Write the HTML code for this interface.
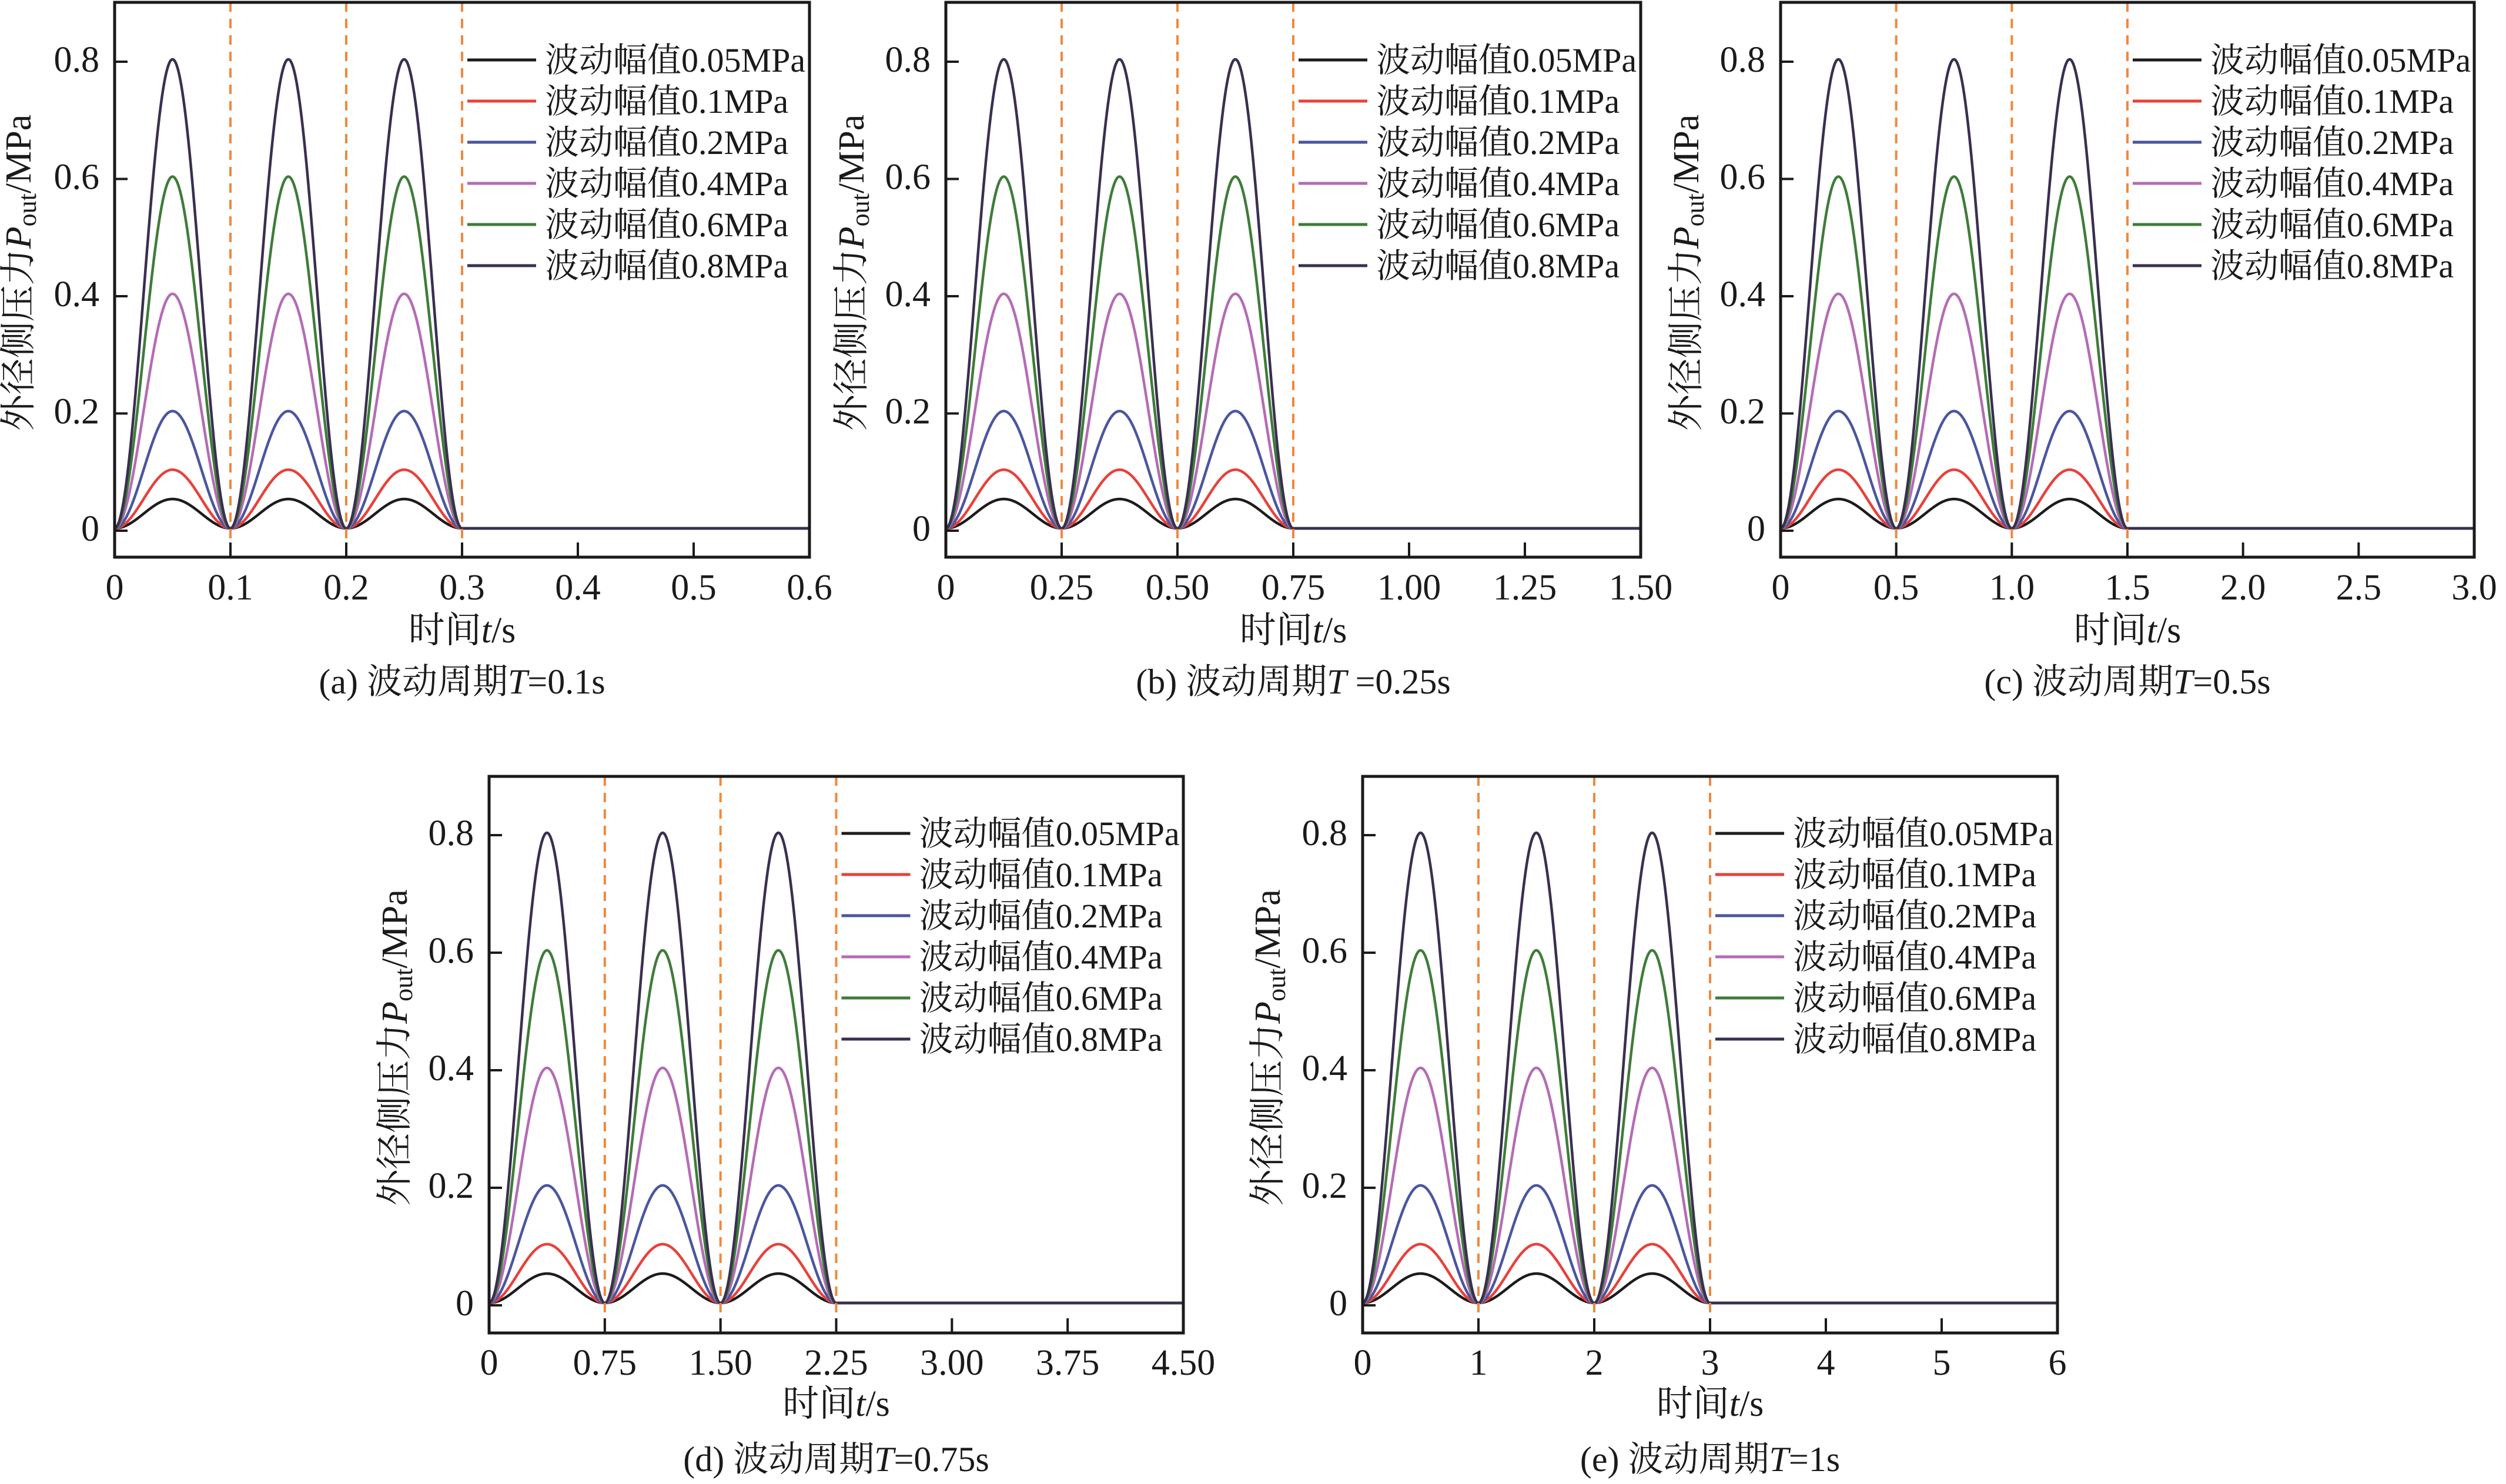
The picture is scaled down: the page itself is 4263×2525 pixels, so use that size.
<!DOCTYPE html>
<html><head><meta charset="utf-8">
<style>
html,body{margin:0;padding:0;background:#fff;}
svg{display:block;}
text{font-family:"Liberation Serif","Noto Serif CJK SC",serif;fill:#1a1a1a;}
</style></head>
<body>
<svg id="fig" width="4263" height="2525" viewBox="0 0 4263 2525" xmlns="http://www.w3.org/2000/svg"></svg>
<script>
// ---- data ----
const panelIds = ['a','b','c','d','e'];
const periods = [0.1, 0.25, 0.5, 0.75, 1];
const xMaxes = [0.6, 1.5, 3.0, 4.5, 6];
const xTicksA = [0,0.1,0.2,0.3,0.4,0.5,0.6];
const xTicksB = [0,0.25,0.5,0.75,1.0,1.25,1.5];
const xTicksC = [0,0.5,1.0,1.5,2.0,2.5,3.0];
const xTicksD = [0,0.75,1.5,2.25,3.0,3.75,4.5];
const xTicksE = [0,1,2,3,4,5,6];
const xTickLabelsA = ['0','0.1','0.2','0.3','0.4','0.5','0.6'];
const xTickLabelsB = ['0','0.25','0.50','0.75','1.00','1.25','1.50'];
const xTickLabelsC = ['0','0.5','1.0','1.5','2.0','2.5','3.0'];
const xTickLabelsD = ['0','0.75','1.50','2.25','3.00','3.75','4.50'];
const xTickLabelsE = ['0','1','2','3','4','5','6'];
const yTicks = [0,0.2,0.4,0.6,0.8];
const yTickLabels = ['0','0.2','0.4','0.6','0.8'];
const amplitudes = [0.05,0.1,0.2,0.4,0.6,0.8];
const seriesLabels = ['波动幅值0.05MPa','波动幅值0.1MPa','波动幅值0.2MPa','波动幅值0.4MPa','波动幅值0.6MPa','波动幅值0.8MPa'];
const cycles = 3;
const captionPeriods = ['T=0.1s','T =0.25s','T=0.5s','T=0.75s','T=1s'];

// ---- styles / layout ----
const colors = ['#1c1c1c','#e8413a','#4a569e','#b46cb4','#3f7c3a','#3a2f50'];
const layout = [
  {l:195,r:1377,t:4,b:948,y0:899,y8:101,tickY:1020,xlY:1093,capY:1180,ylX:32},
  {l:1609,r:2791,t:4,b:948,y0:899,y8:101,tickY:1020,xlY:1093,capY:1180,ylX:1449},
  {l:3029,r:4209,t:4,b:948,y0:899,y8:101,tickY:1020,xlY:1093,capY:1180,ylX:2869},
  {l:832,r:2013,t:1321,b:2268,y0:2217,y8:1417,tickY:2339,xlY:2409,capY:2503,ylX:672},
  {l:2318,r:3500,t:1321,b:2268,y0:2217,y8:1417,tickY:2339,xlY:2409,capY:2503,ylX:2157}
];
const allTicks=[xTicksA,xTicksB,xTicksC,xTicksD,xTicksE];
const allTickLabels=[xTickLabelsA,xTickLabelsB,xTickLabelsC,xTickLabelsD,xTickLabelsE];
const NS='http://www.w3.org/2000/svg';
const svg=document.getElementById('fig');
function mk(tag,attrs,parent){const e=document.createElementNS(NS,tag);for(const k in attrs)e.setAttribute(k,attrs[k]);(parent||svg).appendChild(e);return e;}

panelIds.forEach((pid,pi)=>{
  const L=layout[pi], T=periods[pi], xMax=xMaxes[pi];
  const g=mk('g',{});
  
  
  const X=v=>L.l+(L.r-L.l)*v/xMax;
  const Y=v=>L.y0+(L.y8-L.y0)*v/0.8;
  amplitudes.forEach((A,si)=>{
    let d='';const n=900;const tEnd=cycles*T;
    for(let i=0;i<=n;i++){const t=tEnd*i/n;const s=Math.sin(Math.PI*t/T);const v=A*s*s;d+=(i?'L':'M')+X(t).toFixed(2)+' '+Y(v).toFixed(2);}
    d+='L'+X(xMax).toFixed(2)+' '+Y(0).toFixed(2);
    const p=mk('path',{d:d,fill:'none',stroke:colors[si],'stroke-width':4.5,'stroke-linejoin':'round'},g);
    
    
  });
  for(let k=1;k<=cycles;k++){
    const dl=mk('line',{x1:X(k*T),x2:X(k*T),y1:L.t,y2:L.b,stroke:'#f0883c','stroke-width':4,'stroke-dasharray':'16 12'},g);
    
    
  }
  const fr=mk('rect',{x:L.l,y:L.t,width:L.r-L.l,height:L.b-L.t,fill:'none',stroke:'#1a1a1a','stroke-width':5},g);
  
  
  allTicks[pi].forEach((tv,ti)=>{
    const x=X(tv);
    mk('line',{x1:x,x2:x,y1:L.b,y2:L.b-25,stroke:'#1a1a1a','stroke-width':4},g);
    const tx=mk('text',{x:x,y:L.tickY,'text-anchor':'middle','font-size':62},g);
    tx.textContent=allTickLabels[pi][ti];
    
    
  });
  yTicks.forEach((yv,yi)=>{
    const y=Y(yv);
    mk('line',{x1:L.l,x2:L.l+22,y1:y+4,y2:y+4,stroke:'#1a1a1a','stroke-width':4},g);
    const ty=mk('text',{x:L.l-26,y:y+21,'text-anchor':'end','font-size':62},g);
    ty.textContent=yTickLabels[yi];
    
    
  });
  const lx=X(cycles*T)+9;
  const lg=mk('g',{},g);
  
  
  seriesLabels.forEach((lab,si)=>{
    const ly=L.y8+1+si*70;
    mk('line',{x1:lx,x2:lx+117,y1:ly,y2:ly,stroke:colors[si],'stroke-width':5},lg);
    const lt=mk('text',{x:lx+132,y:ly+20,'font-size':58},lg);
    lt.textContent=lab;
    
    
  });
  const cx=(L.l+L.r)/2;
  const xl=mk('text',{x:cx,y:L.xlY,'text-anchor':'middle','font-size':62},g);
  xl.innerHTML='时间<tspan font-style="italic">t</tspan>/s';
  
  
  const cy=(L.t+L.b)/2-12;
  const yl=mk('text',{x:0,y:0,'text-anchor':'middle','font-size':62,transform:'translate('+L.ylX+','+cy+') rotate(-90)','dominant-baseline':'central'},g);
  yl.innerHTML='外径侧压力<tspan font-style="italic">P</tspan><tspan font-size="44" dy="14">out</tspan><tspan dy="-14">/MPa</tspan>';
  
  
  const cap=mk('text',{x:cx,y:L.capY,'text-anchor':'middle','font-size':60},g);
  const cp=captionPeriods[pi];
  cap.innerHTML='('+pid+') 波动周期<tspan font-style="italic">T</tspan>'+cp.slice(1);
  
  
});
</script>
</body></html>
